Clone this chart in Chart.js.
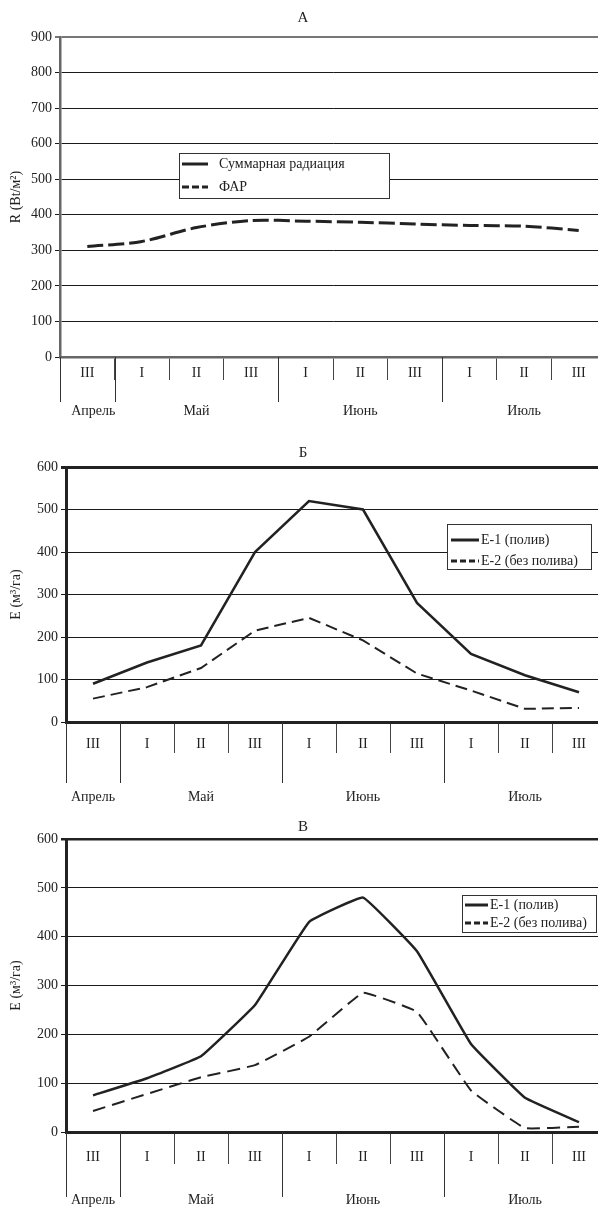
<!DOCTYPE html>
<html>
<head>
<meta charset="utf-8">
<script src="https://cdn.jsdelivr.net/npm/chart.js@4.4.1/dist/chart.umd.min.js"></script>
<style>
  body { margin: 0; background: #fff; width: 598px; height: 1207px; overflow: hidden; position: relative; }
  .panel { position: absolute; left: 0; width: 610px; }
</style>
</head>
<body>
<div class="panel" style="top:0;height:420px"><canvas id="chart-a"></canvas></div>
<div class="panel" style="top:440px;height:372px"><canvas id="chart-b"></canvas></div>
<div class="panel" style="top:815px;height:392px"><canvas id="chart-c"></canvas></div>
<script>
const DECADES = ['III', 'I', 'II', 'III', 'I', 'II', 'III', 'I', 'II', 'III'];
const MONTHS = ['Апрель', 'Май', 'Июнь', 'Июль'];
const MONTH_SPANS = [1, 3, 3, 3];

// A: radiation, W/m2 (the "total" series has no line drawn in the figure)
const A_TOTAL = [null, null, null, null, null, null, null, null, null, null];
const A_PAR = [311, 325, 364, 384, 382, 379, 374, 370, 368, 356];

// Б and В: evapotranspiration, m3/ha
const B_E1 = [90, 140, 180, 400, 520, 500, 280, 160, 110, 70];
const B_E2 = [55, 82, 127, 215, 245, 192, 114, 74, 31, 33];
const C_E1 = [75, 110, 155, 260, 430, 480, 370, 180, 70, 20];
const C_E2 = [43, 78, 112, 137, 195, 285, 246, 85, 8, 11];

const A_MAX = 900;
const E_MAX = 600;
const Y_STEP = 100;

const FONT = "'Liberation Serif', 'Times New Roman', serif";
const INK = '#222';
Chart.defaults.font.family = FONT;
Chart.defaults.color = INK;

const boxLegend = {
  id: 'boxLegend',
  afterDraw(chart, args, opts) {
    const { ctx, chartArea } = chart;
    const x = chartArea.left + opts.x;
    const y = chartArea.top + opts.y;
    ctx.save();
    ctx.fillStyle = '#fff';
    ctx.fillRect(x, y, opts.w, opts.h);
    ctx.strokeStyle = '#333';
    ctx.lineWidth = 1;
    ctx.strokeRect(Math.round(x) + 0.5, Math.round(y) + 0.5, opts.w, opts.h);
    ctx.font = `14px ${FONT}`;
    ctx.textBaseline = 'middle';
    chart.data.datasets.forEach((ds, i) => {
      const cy = y + opts.rows[i];
      ctx.beginPath();
      ctx.setLineDash(ds.borderDash ? opts.dash : []);
      ctx.lineWidth = 3;
      ctx.strokeStyle = ds.borderColor;
      ctx.moveTo(x + opts.lineX, cy);
      ctx.lineTo(x + opts.lineX + opts.lineLen, cy);
      ctx.stroke();
      ctx.setLineDash([]);
      ctx.fillStyle = INK;
      ctx.fillText(ds.label, x + opts.textX, cy);
    });
    ctx.restore();
  }
};

const monthAxis = {
  id: 'monthAxis',
  afterDraw(chart, args, opts) {
    const { ctx, chartArea } = chart;
    const xs = chart.scales.x;
    const half = (xs.getPixelForValue(1) - xs.getPixelForValue(0)) / 2;
    const bottom = chartArea.bottom;
    ctx.save();
    ctx.strokeStyle = '#333';
    ctx.lineWidth = 1;
    ctx.fillStyle = INK;
    ctx.font = `14px ${FONT}`;
    ctx.textAlign = 'center';
    ctx.textBaseline = 'middle';
    let start = 0;
    MONTHS.forEach((month, i) => {
      const left = xs.getPixelForValue(start) - half;
      const right = xs.getPixelForValue(start + MONTH_SPANS[i] - 1) + half;
      const px = Math.round(left) + 0.5;
      ctx.beginPath();
      ctx.moveTo(px, bottom);
      ctx.lineTo(px, bottom + opts.lineLen);
      ctx.stroke();
      ctx.fillText(month, (left + right) / 2 + (i === 0 ? opts.firstShift : 0), bottom + opts.labelY);
      start += MONTH_SPANS[i];
    });
    ctx.restore();
  }
};

function makeChart(id, cfg) {
  const yMax = cfg.yMax;
  return new Chart(document.getElementById(id), {
    type: 'line',
    data: { labels: DECADES, datasets: cfg.datasets },
    plugins: [boxLegend, monthAxis],
    options: {
      responsive: true,
      maintainAspectRatio: false,
      animation: false,
      layout: { padding: { left: 0, right: 4, top: 0, bottom: 0 } },
      elements: { point: { radius: 0 } },
      plugins: {
        legend: { display: false },
        tooltip: { enabled: false },
        title: {
          display: true,
          text: cfg.title,
          color: INK,
          font: { size: 15, weight: 'normal' },
          padding: cfg.titlePad
        },
        boxLegend: cfg.legend,
        monthAxis: cfg.months
      },
      scales: {
        x: {
          offset: true,
          afterFit: (scale) => { scale.height = cfg.xHeight; },
          grid: {
            offset: true,
            drawOnChartArea: false,
            drawTicks: true,
            tickLength: cfg.tickLen,
            color: '#444',
            lineWidth: 1
          },
          border: { display: true, color: cfg.axisColor, width: cfg.axisWidth },
          ticks: {
            autoSkip: false,
            maxRotation: 0,
            color: INK,
            padding: cfg.labelPad,
            font: { size: 14 }
          }
        },
        y: {
          min: 0,
          max: yMax,
          afterFit: (scale) => { scale.width = cfg.yWidth; },
          border: { display: true, color: cfg.axisColor, width: cfg.axisWidth },
          grid: {
            color: (c) => (c.tick && c.tick.value === yMax ? cfg.topColor : '#1a1a1a'),
            lineWidth: (c) => (c.tick && c.tick.value === yMax ? cfg.topWidth : 1),
            tickLength: 5
          },
          ticks: { stepSize: Y_STEP, padding: 3, color: INK, font: { size: 14 } },
          title: {
            display: true,
            text: cfg.yTitle,
            color: INK,
            font: { size: 14 },
            padding: { top: 8, bottom: 0 }
          }
        }
      }
    }
  });
}

makeChart('chart-a', {
  title: 'А',
  titlePad: { top: 9, bottom: 10 },
  yMax: A_MAX,
  yTitle: 'R (Bt/м²)',
  yWidth: 60,
  xHeight: 63,
  tickLen: 23,
  labelPad: -15,
  axisColor: '#666',
  axisWidth: 2.5,
  topColor: '#777',
  topWidth: 2,
  datasets: [
    { label: 'Суммарная радиация', data: A_TOTAL, borderColor: INK, borderWidth: 3 },
    { label: 'ФАР', data: A_PAR, borderColor: INK, borderWidth: 3, borderDash: [16, 5], tension: 0.3 }
  ],
  legend: { x: 119, y: 116, w: 210, h: 45, rows: [11, 34], lineX: 3, lineLen: 26, textX: 40, dash: [7, 3] },
  months: { lineLen: 45, labelY: 54, firstShift: 6 }
});

makeChart('chart-b', {
  title: 'Б',
  titlePad: { top: 4, bottom: 5 },
  yMax: E_MAX,
  yTitle: 'E (м³/га)',
  yWidth: 66,
  xHeight: 90,
  tickLen: 31,
  labelPad: -17,
  axisColor: '#222',
  axisWidth: 3,
  topColor: '#222',
  topWidth: 3,
  datasets: [
    { label: 'E-1 (полив)', data: B_E1, borderColor: INK, borderWidth: 2.5, tension: 0 },
    { label: 'E-2 (без полива)', data: B_E2, borderColor: INK, borderWidth: 2, borderDash: [12, 6], tension: 0 }
  ],
  legend: { x: 381, y: 57, w: 144, h: 45, rows: [16, 37], lineX: 4, lineLen: 28, textX: 34, dash: [6, 3] },
  months: { lineLen: 61, labelY: 75, firstShift: 0 }
});

makeChart('chart-c', {
  title: 'В',
  titlePad: { top: 3, bottom: 3 },
  yMax: E_MAX,
  yTitle: 'E (м³/га)',
  yWidth: 66,
  xHeight: 75,
  tickLen: 32,
  labelPad: -15,
  axisColor: '#222',
  axisWidth: 3,
  topColor: '#222',
  topWidth: 2.5,
  datasets: [
    { label: 'E-1 (полив)', data: C_E1, borderColor: INK, borderWidth: 2.5, tension: 0.08 },
    { label: 'E-2 (без полива)', data: C_E2, borderColor: INK, borderWidth: 2, borderDash: [13, 7], tension: 0.08 }
  ],
  legend: { x: 396, y: 56, w: 134, h: 37, rows: [10, 28], lineX: 3, lineLen: 23, textX: 28, dash: [6, 3] },
  months: { lineLen: 65, labelY: 68, firstShift: 0 }
});
</script>
</body>
</html>
